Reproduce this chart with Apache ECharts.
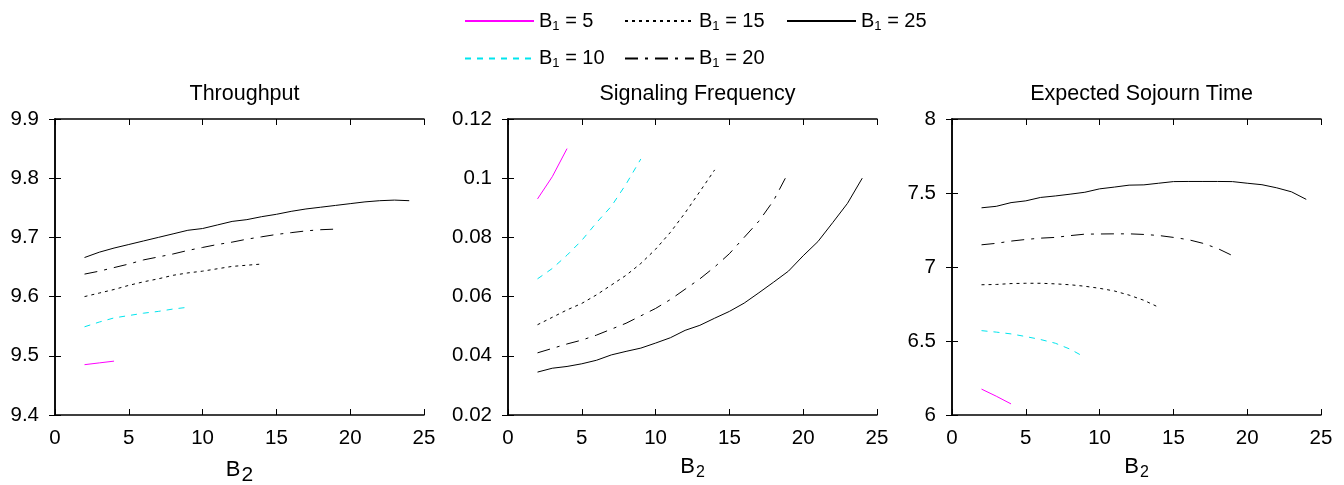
<!DOCTYPE html>
<html>
<head>
<meta charset="utf-8">
<script src="https://cdn.jsdelivr.net/npm/echarts@6/dist/echarts.min.js"></script>
<style>html,body{margin:0;padding:0;background:#fff;}#c{width:1344px;height:485px;}</style>
</head>
<body>
<div id="c"></div>
<script>
// ---- data ----
const seriesNames = ['B1 = 5', 'B1 = 10', 'B1 = 15', 'B1 = 20', 'B1 = 25'];
const panelTitles = ['Throughput', 'Signaling Frequency', 'Expected Sojourn Time'];
const xTicks = [0, 5, 10, 15, 20, 25];

const b2_5  = [2, 3, 4];
const b2_10 = [2, 3, 4, 5, 6, 7, 8, 9];
const b2_15 = [2, 3, 4, 5, 6, 7, 8, 9, 10, 11, 12, 13, 14];
const b2_20 = [2, 3, 4, 5, 6, 7, 8, 9, 10, 11, 12, 13, 14, 15, 16, 17, 18, 19];
const b2_25 = [2, 3, 4, 5, 6, 7, 8, 9, 10, 11, 12, 13, 14, 15, 16, 17, 18, 19, 20, 21, 22, 23, 24];

// Throughput
const thr_5  = [9.485, 9.488, 9.491];
const thr_10 = [9.549, 9.557, 9.564, 9.568, 9.572, 9.575, 9.579, 9.582];
const thr_15 = [9.600, 9.606, 9.612, 9.619, 9.625, 9.630, 9.636, 9.640, 9.643, 9.647, 9.651, 9.653, 9.655];
const thr_20 = [9.638, 9.643, 9.649, 9.655, 9.662, 9.667, 9.672, 9.678, 9.683, 9.688, 9.692, 9.697, 9.701, 9.705, 9.708, 9.711, 9.713, 9.714];
const thr_25 = [9.666, 9.675, 9.682, 9.688, 9.694, 9.700, 9.706, 9.712, 9.715, 9.721, 9.727, 9.730, 9.735, 9.739, 9.744, 9.748, 9.751, 9.754, 9.757, 9.760, 9.762, 9.763, 9.762];

// Signaling frequency
const sig_5  = [0.093, 0.1005, 0.110];
const sig_10 = [0.066, 0.0695, 0.074, 0.079, 0.085, 0.0905, 0.098, 0.1065];
const sig_15 = [0.0505, 0.053, 0.0555, 0.0577, 0.0606, 0.0639, 0.0672, 0.0712, 0.0760, 0.0817, 0.0883, 0.0955, 0.1028];
const sig_20 = [0.041, 0.0425, 0.044, 0.0453, 0.047, 0.049, 0.051, 0.0535, 0.056, 0.059, 0.0625, 0.066, 0.070, 0.0745, 0.080, 0.0855, 0.0925, 0.102];
const sig_25 = [0.0345, 0.0358, 0.0364, 0.0373, 0.0385, 0.0403, 0.0415, 0.0426, 0.0443, 0.0461, 0.0486, 0.0503, 0.0527, 0.0550, 0.0578, 0.0613, 0.0649, 0.0686, 0.0738, 0.0786, 0.0850, 0.0915, 0.1000];

// Expected sojourn time
const soj_5  = [6.175, 6.127, 6.075];
const soj_10 = [6.57, 6.56, 6.548, 6.53, 6.51, 6.485, 6.445, 6.39];
const soj_15 = [6.88, 6.882, 6.888, 6.89, 6.89, 6.886, 6.88, 6.87, 6.856, 6.838, 6.81, 6.775, 6.728];
const soj_20 = [7.15, 7.16, 7.175, 7.186, 7.195, 7.20, 7.212, 7.222, 7.223, 7.224, 7.224, 7.22, 7.213, 7.20, 7.185, 7.16, 7.125, 7.077];
const soj_25 = [7.40, 7.41, 7.435, 7.447, 7.47, 7.48, 7.492, 7.505, 7.528, 7.54, 7.553, 7.555, 7.566, 7.577, 7.578, 7.578, 7.578, 7.577, 7.566, 7.556, 7.535, 7.508, 7.457];

const yMin = [9.4, 0.02, 6];
const yMax = [9.9, 0.12, 8];
const yStep = [0.1, 0.02, 0.5];

// ---- build ----
const FONT = 'Liberation Sans';
const xs = [b2_5, b2_10, b2_15, b2_20, b2_25];
const panels = [
  [thr_5, thr_10, thr_15, thr_20, thr_25],
  [sig_5, sig_10, sig_15, sig_20, sig_25],
  [soj_5, soj_10, soj_15, soj_20, soj_25]
];
const styles = [
  {color: '#ff00ff', type: 'solid'},
  {color: '#00e5ee', type: [6, 6]},
  {color: '#000000', type: [3, 4]},
  {color: '#000000', type: [13, 7, 3, 7]},
  {color: '#000000', type: 'solid'}
];
const gridLefts = [55, 508, 952];
const gridW = 369, gridTop = 119, gridH = 296;

const rich = {
  b: {fontSize: 20, fontFamily: FONT, color: '#000'},
  s: {fontSize: 13, fontFamily: FONT, color: '#000', padding: [10, 0, 0, 0]}
};
const subSizes = [21, 16, 16];

const grid = [], xAxis = [], yAxis = [], series = [], title = [];
for (let p = 0; p < 3; p++) {
  grid.push({left: gridLefts[p], top: gridTop, width: gridW, height: gridH,
    containLabel: false, outerBoundsMode: 'none'});
  title.push({
    text: panelTitles[p], left: gridLefts[p] + gridW / 2, top: 78, textAlign: 'center',
    textStyle: {fontFamily: FONT, fontSize: 21.5, fontWeight: 'normal', color: '#000'}
  });
  const lineS = {show: true, lineStyle: {color: '#000', width: 1.5}};
  const tickS = {show: true, inside: true, length: 6, lineStyle: {color: '#000', width: 1}};
  const nameRich = {
    b: {fontSize: 22, fontFamily: FONT, color: '#000'},
    s: {fontSize: subSizes[p], fontFamily: FONT, color: '#000', padding: [12, 0, 0, 1]}
  };
  xAxis.push({
    type: 'value', gridIndex: p, min: 0, max: 25, interval: 5, position: 'bottom',
    axisLine: lineS, axisTick: tickS, splitLine: {show: false},
    axisLabel: {fontFamily: FONT, fontSize: 20.5, color: '#000', margin: 13},
    name: '{b|B}{s|2}', nameLocation: 'middle', nameGap: 38,
    nameTextStyle: {rich: nameRich}
  });
  xAxis.push({
    type: 'value', gridIndex: p, min: 0, max: 25, interval: 5, position: 'top',
    axisLine: lineS, axisTick: tickS, splitLine: {show: false}, axisLabel: {show: false}
  });
  yAxis.push({
    type: 'value', gridIndex: p, min: yMin[p], max: yMax[p], interval: yStep[p], position: 'left',
    axisLine: lineS, axisTick: tickS, splitLine: {show: false},
    axisLabel: {fontFamily: FONT, fontSize: 20.5, color: '#000', margin: 16}
  });
  yAxis.push({
    type: 'value', gridIndex: p, min: yMin[p], max: yMax[p], interval: yStep[p], position: 'right',
    axisLine: lineS, axisTick: tickS, splitLine: {show: false}, axisLabel: {show: false}
  });
  for (let s = 0; s < 5; s++) {
    series.push({
      type: 'line', name: seriesNames[s], xAxisIndex: p * 2, yAxisIndex: p * 2,
      data: xs[s].map((x, i) => [x, panels[p][s][i]]),
      symbol: 'none', showSymbol: false, smooth: false,
      lineStyle: {color: styles[s].color, type: styles[s].type, width: 1},
      itemStyle: {color: styles[s].color}
    });
  }
}

function legendFmt(name) {
  const v = name.split('= ')[1];
  return '{b|B}{s|1}{b| = ' + v + '}';
}
const legBase = {
  orient: 'vertical', top: 6, itemWidth: 69, itemHeight: 14, itemGap: 16,
  formatter: legendFmt, textStyle: {rich: rich}, selectedMode: false,
  itemStyle: {opacity: 0, borderWidth: 0}
};
const legend = [
  Object.assign({}, legBase, {left: 459, data: ['B1 = 5', 'B1 = 10']}),
  Object.assign({}, legBase, {left: 619, data: ['B1 = 15', 'B1 = 20']}),
  Object.assign({}, legBase, {left: 781, data: ['B1 = 25']})
];

const chart = echarts.init(document.getElementById('c'));
chart.setOption({
  animation: false, backgroundColor: '#fff',
  title, legend, grid, xAxis, yAxis, series
});
</script>
</body>
</html>
